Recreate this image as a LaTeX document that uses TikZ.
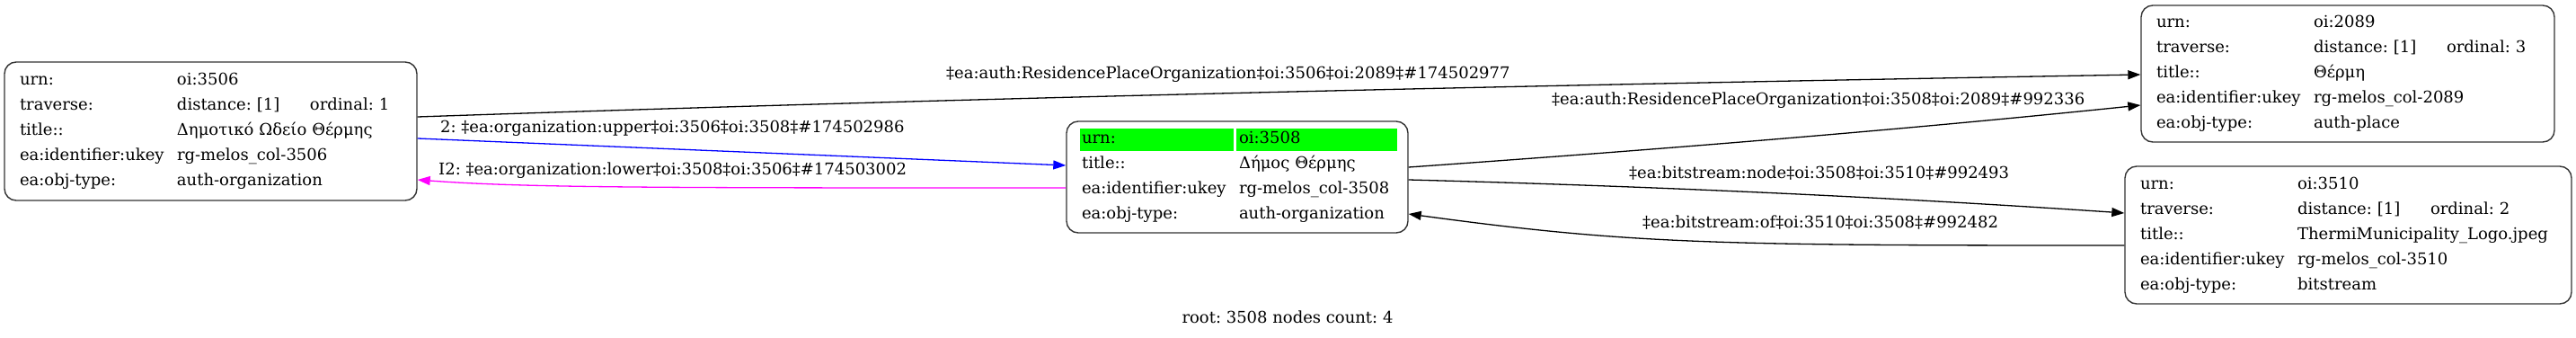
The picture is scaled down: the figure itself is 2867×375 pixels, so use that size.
\documentclass[tikz,border=0pt]{standalone}
\usepackage{fontspec}
\setmainfont{DejaVu Serif}
\usetikzlibrary{arrows.meta}
\newdimen\unitsize
\setlength{\unitsize}{1pt}
\definecolor{urngreen}{RGB}{0,255,0}
\definecolor{upblue}{RGB}{0,0,255}
\definecolor{lowmagenta}{RGB}{255,0,255}
\newcommand{\reckey}[1]{\makebox[175pt][l]{#1}}
\newcommand{\recdist}[1]{\makebox[148pt][l]{distance: [1]}ordinal: #1}
\frenchspacing

\begin{document}
\begin{tikzpicture}[x=\unitsize,y=\unitsize,
  rec/.style={draw=black!80,line width=1.4pt,rounded corners=13pt,
    inner xsep=17pt,inner ysep=0pt,align=left,
    font=\fontsize{18}{28}\selectfont},
  lnk/.style={-{Triangle[length=14pt,width=10pt]},line width=1.3pt},
  lbl/.style={font=\fontsize{18}{22}\selectfont,inner sep=0pt,anchor=west}]
\useasboundingbox (0,0) rectangle (2867,-375);
% root row highlight
\fill[urngreen] (1202,-143) rectangle (1373,-168);
\fill[urngreen] (1376,-143) rectangle (1555,-168);
% records
\node[rec,text width=425pt,minimum height=154pt] (n3506) at (234.5,-146) {%
  \reckey{urn:}oi:3506\\
  \reckey{traverse:}\recdist{1}\\
  \reckey{title::}Δημοτικό Ωδείο Θέρμης\\
  \reckey{ea:identifier:ukey}rg-melos\_col-3506\\
  \reckey{ea:obj-type:}auth-organization};
\node[rec,text width=346pt,minimum height=124pt] (n3508) at (1377,-197) {%
  \reckey{urn:}oi:3508\\
  \reckey{title::}Δήμος Θέρμης\\
  \reckey{ea:identifier:ukey}rg-melos\_col-3508\\
  \reckey{ea:obj-type:}auth-organization};
\node[rec,text width=426pt,minimum height=152pt] (n2089) at (2613,-82) {%
  \reckey{urn:}oi:2089\\
  \reckey{traverse:}\recdist{3}\\
  \reckey{title::}Θέρμη\\
  \reckey{ea:identifier:ukey}rg-melos\_col-2089\\
  \reckey{ea:obj-type:}auth-place};
\node[rec,text width=463pt,minimum height=153pt] (n3510) at (2613.5,-261.5) {%
  \reckey{urn:}oi:3510\\
  \reckey{traverse:}\recdist{2}\\
  \reckey{title::}ThermiMunicipality\_Logo.jpeg\\
  \reckey{ea:identifier:ukey}rg-melos\_col-3510\\
  \reckey{ea:obj-type:}bitstream};
% links
\draw[lnk] ([yshift=16pt]n3506.east)
  .. controls +(640,22) and +(-640,-11) .. ([yshift=-1pt]n2089.west);
\draw[lnk,upblue] ([yshift=-8pt]n3506.east) -- ([yshift=13pt]n3508.west);
\draw[lnk,lowmagenta] ([yshift=-12pt]n3508.west)
  .. controls +(-450,0) and +(120,-9) .. ([yshift=-54pt]n3506.east);
\draw[lnk] ([yshift=11pt]n3508.east)
  .. controls +(270,19) and +(-270,-28) .. ([yshift=-35pt]n2089.west);
\draw[lnk] ([yshift=-3pt]n3508.east)
  .. controls +(265,-7) and +(-265,18) .. ([yshift=24.5pt]n3510.west);
\draw[lnk] ([yshift=-11.5pt]n3510.west)
  .. controls +(-450,0) and +(250,-34) .. ([yshift=-41pt]n3508.east);
% link labels
\node[lbl] (l1) at (1053,-83) {‡ea:auth:ResidencePlaceOrganization‡oi:3506‡oi:2089‡\#174502977};
\node[lbl] (l2) at (490,-143) {2: ‡ea:organization:upper‡oi:3506‡oi:3508‡\#174502986};
\node[lbl] (l3) at (488,-190) {I2: ‡ea:organization:lower‡oi:3508‡oi:3506‡\#174503002};
\node[lbl] (l4) at (1727,-112) {‡ea:auth:ResidencePlaceOrganization‡oi:3508‡oi:2089‡\#992336};
\node[lbl] (l5) at (1813,-193) {‡ea:bitstream:node‡oi:3508‡oi:3510‡\#992493};
\node[lbl] (l6) at (1828,-248) {‡ea:bitstream:of‡oi:3510‡oi:3508‡\#992482};
% footer
\node[font=\fontsize{18}{22}\selectfont] (foot) at (1433,-353) {root: 3508 nodes count: 4};
\end{tikzpicture}
\end{document}
